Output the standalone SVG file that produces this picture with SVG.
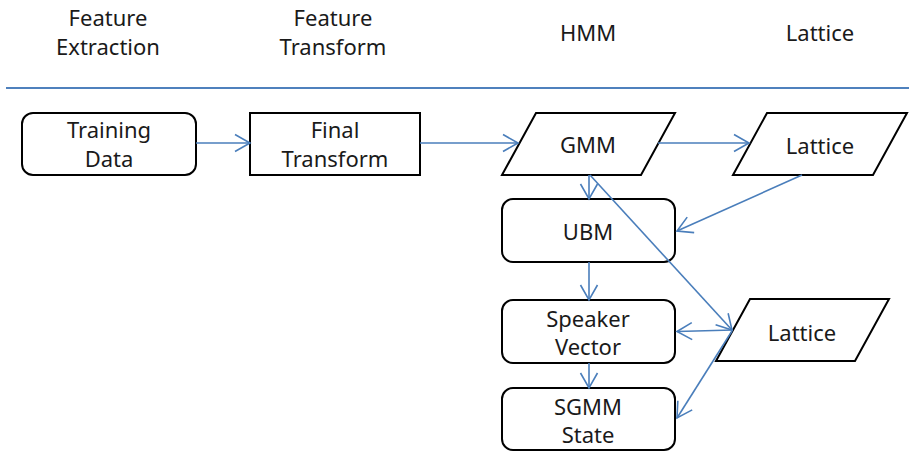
<svg xmlns="http://www.w3.org/2000/svg" width="915" height="452" viewBox="0 0 915 452">
  <style>
    text { font-family: "Noto Sans", "Open Sans", "Liberation Sans", sans-serif; font-size: 22px; fill: #1a1a1a; text-anchor: middle; }
    .node { fill: #ffffff; stroke: #000000; stroke-width: 2; }
    .link { fill: none; stroke: #4a7ebb; stroke-width: 1.6; marker-end: url(#arrow); }
  </style>
  <defs>
    <marker id="arrow" markerUnits="userSpaceOnUse" viewBox="0 0 18 20" markerWidth="18" markerHeight="20" refX="16" refY="10" orient="auto">
      <path d="M1,1.5 L16,10 L1,18.5" fill="none" stroke="#4a7ebb" stroke-width="1.6"/>
    </marker>
  </defs>

  <!-- column headings -->
  <g id="headings">
    <text x="108" y="26">Feature</text>
    <text x="108" y="55">Extraction</text>
    <text x="333" y="26">Feature</text>
    <text x="333" y="55">Transform</text>
    <text x="588" y="41">HMM</text>
    <text x="820" y="41">Lattice</text>
  </g>

  <!-- divider under the headings -->
  <line id="divider" x1="6" y1="88" x2="909" y2="88" stroke="#4f81bd" stroke-width="2.2"/>

  <!-- nodes -->
  <g id="training-data">
    <rect class="node" x="22" y="113" width="174" height="62" rx="11"/>
    <text x="109" y="138">Training</text>
    <text x="109" y="167">Data</text>
  </g>

  <g id="final-transform">
    <rect class="node" x="250" y="113" width="170" height="62"/>
    <text x="335" y="138">Final</text>
    <text x="335" y="167">Transform</text>
  </g>

  <g id="gmm">
    <polygon class="node" points="536,113 675,113 641,175 502,175"/>
    <text x="588" y="153">GMM</text>
  </g>

  <g id="lattice-top">
    <polygon class="node" points="767,113 907,113 873,175 733,175"/>
    <text x="820" y="154">Lattice</text>
  </g>

  <g id="ubm">
    <rect class="node" x="502" y="199" width="173" height="63" rx="11"/>
    <text x="588" y="240">UBM</text>
  </g>

  <g id="speaker-vector">
    <rect class="node" x="502" y="300" width="173" height="63" rx="11"/>
    <text x="588" y="327">Speaker</text>
    <text x="588" y="355">Vector</text>
  </g>

  <g id="sgmm-state">
    <rect class="node" x="502" y="388" width="173" height="62" rx="11"/>
    <text x="588" y="415">SGMM</text>
    <text x="588" y="443">State</text>
  </g>

  <g id="lattice-bottom">
    <polygon class="node" points="750,299 889,299 855,361 716,361"/>
    <text x="802" y="341">Lattice</text>
  </g>

  <!-- connectors, drawn above the nodes so the long diagonal crosses UBM -->
  <g id="connectors">
    <line class="link" x1="196" y1="143" x2="250" y2="143"/>
    <line class="link" x1="420" y1="143" x2="518" y2="143"/>
    <line class="link" x1="658" y1="143" x2="749" y2="143"/>
    <line class="link" x1="589" y1="175" x2="589" y2="199"/>
    <line class="link" x1="802" y1="175" x2="677" y2="231"/>
    <line class="link" x1="590" y1="175" x2="732" y2="330"/>
    <line class="link" x1="589" y1="262" x2="589" y2="300"/>
    <line class="link" x1="589" y1="363" x2="589" y2="388"/>
    <line class="link" x1="733" y1="330" x2="677" y2="331.5"/>
    <line class="link" x1="732" y1="331" x2="677" y2="418"/>
  </g>
</svg>
